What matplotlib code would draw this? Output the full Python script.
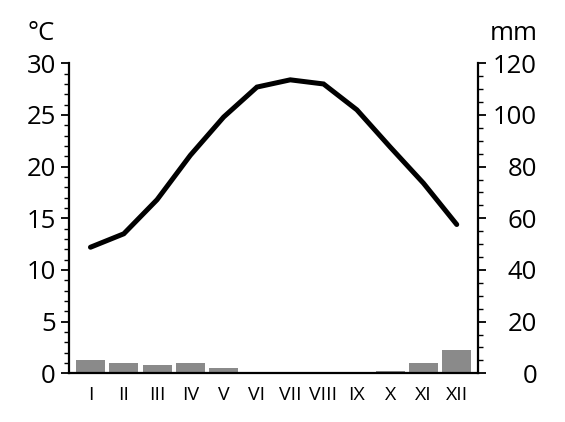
import matplotlib
matplotlib.use("Agg")
import matplotlib.pyplot as plt
from matplotlib.ticker import MultipleLocator

months = ["I", "II", "III", "IV", "V", "VI", "VII", "VIII", "IX", "X", "XI", "XII"]
temperature = [12.2, 13.5, 16.8, 21.1, 24.8, 27.7, 28.4, 28.0, 25.5, 21.9, 18.4, 14.4]
precipitation = [5.2, 4.1, 3.1, 4.1, 2.1, 0, 0, 0, 0, 1.0, 4.0, 9.2]

plt.rcParams['font.family'] = ['Open Sans', 'DejaVu Sans']

fig = plt.figure(figsize=(5.65, 4.22), dpi=100)
ax = fig.add_axes([0.123, 0.1154, 0.7225, 0.7346])
ax2 = ax.twinx()

x = list(range(len(months)))
ax2.bar(x, precipitation, width=0.87, color="#8a8a8a", zorder=1)
ax.plot(x, temperature, color="black", lw=3.6, solid_capstyle="round",
        solid_joinstyle="miter", zorder=3)

ax.set_zorder(ax2.get_zorder() + 1)
ax.patch.set_visible(False)

ax.set_xlim(-0.63, 11.63)
ax.set_ylim(0, 30)
ax2.set_ylim(0, 120)

ax.set_xticks(x)
ax.set_xticklabels(months, fontsize=14)
ax.tick_params(axis="x", length=0, pad=9)

ax.yaxis.set_major_locator(MultipleLocator(5))
ax.yaxis.set_minor_locator(MultipleLocator(1))
ax.tick_params(axis="y", which="major", length=5.8, width=1.3, labelsize=18.5, pad=4)
ax.tick_params(axis="y", which="minor", length=3.6, width=1.0)

ax2.yaxis.set_major_locator(MultipleLocator(20))
ax2.yaxis.set_minor_locator(MultipleLocator(5))
ax2.tick_params(axis="y", which="major", length=5.8, width=1.3, labelsize=18.5, pad=37)
ax2.tick_params(axis="y", which="minor", length=3.6, width=1.0)
for lbl in ax2.get_yticklabels():
    lbl.set_horizontalalignment("right")

for a in (ax, ax2):
    a.spines["top"].set_visible(False)
    for s in a.spines.values():
        s.set_linewidth(1.6)
ax.spines["right"].set_visible(False)
ax2.spines["left"].set_visible(False)
ax2.spines["bottom"].set_visible(False)

fig.text(55 / 565, 1 - 33 / 422, "°C", ha="right", va="center", fontsize=18.5)
fig.text(538 / 565, 1 - 33 / 422, "mm", ha="right", va="center", fontsize=18.5)

fig.savefig("out.png", dpi=100, facecolor="white")
